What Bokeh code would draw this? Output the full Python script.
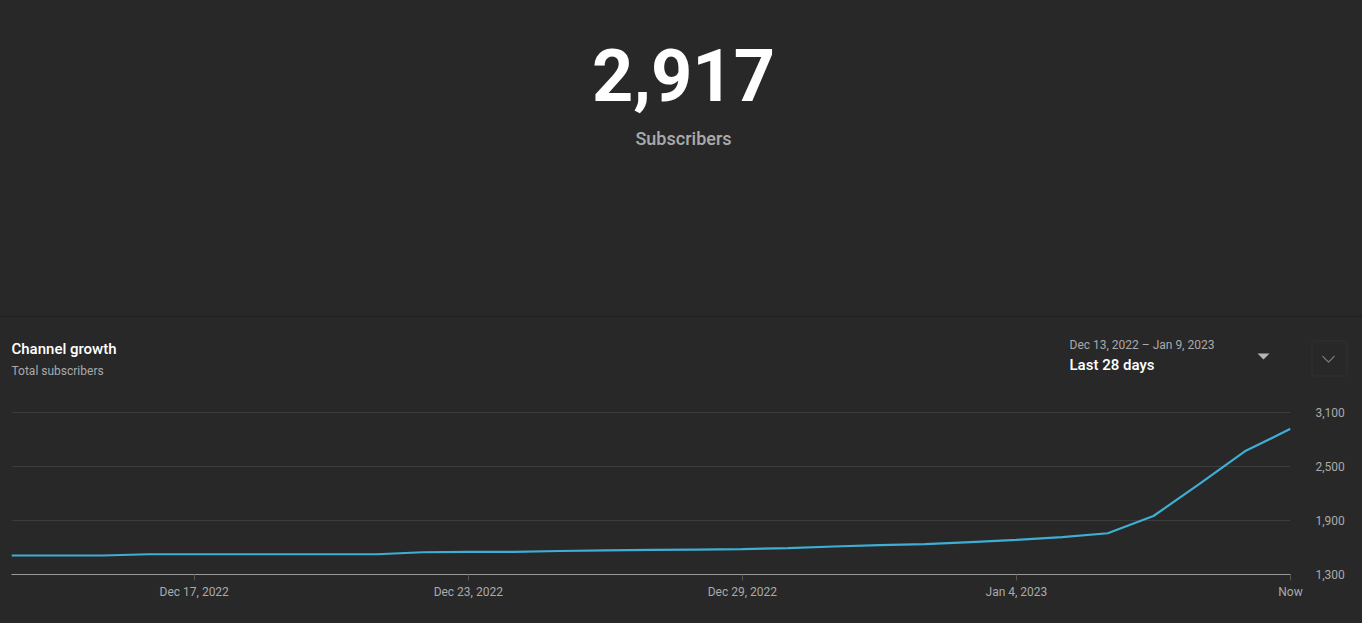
from bokeh.plotting import figure
from bokeh.embed import file_html
from bokeh.resources import INLINE
from bokeh.layouts import column
from bokeh.models import (Label, Range1d, FixedTicker, NumeralTickFormatter, LinearAxis, Span,
                          BoxAnnotation, PolyAnnotation, GlobalInlineStyleSheet, ColumnDataSource)

# ---------------- data ----------------
dates = ["Dec 13", "Dec 14", "Dec 15", "Dec 16", "Dec 17", "Dec 18", "Dec 19", "Dec 20",
         "Dec 21", "Dec 22", "Dec 23", "Dec 24", "Dec 25", "Dec 26", "Dec 27", "Dec 28",
         "Dec 29", "Dec 30", "Dec 31", "Jan 1", "Jan 2", "Jan 3", "Jan 4", "Jan 5",
         "Jan 6", "Jan 7", "Jan 8", "Jan 9", "Now"]
subscribers = [1511, 1511, 1511, 1525, 1525, 1525, 1525, 1525, 1525, 1547, 1550, 1552,
               1561, 1568, 1573, 1577, 1581, 1593, 1611, 1625, 1636, 1660, 1685, 1714,
               1758, 1949, 2304, 2667, 2917]
x_tick_days = [4, 10, 16, 22, 28]
x_tick_labels = ["Dec 17, 2022", "Dec 23, 2022", "Dec 29, 2022", "Jan 4, 2023", "Now"]
y_ticks = [1300, 1900, 2500, 3100]

total_text = "2,917"
total_caption = "Subscribers"
card_title = "Channel growth"
card_subtitle = "Total subscribers"
period_range = "Dec 13, 2022 \u2013 Jan 9, 2023"
period_name = "Last 28 days"

BG = "#282828"
LINE = "#3eaed4"
GREY = "#aaaaaa"
FONT = "Roboto"
FONT_MED = "'Roboto Medium', Roboto"

W = 1362
TOP_H = 400
BOT_H = 223

# ---------------- header figure (page-pixel coordinates) ----------------
top = figure(width=W, height=TOP_H, output_backend="svg", toolbar_location=None,
             x_range=Range1d(0, W), y_range=Range1d(TOP_H, 0),
             min_border=0, x_axis_location=None, y_axis_location=None)
try:
    top.frame_align = False
except Exception:
    pass
top.background_fill_color = BG
top.border_fill_color = BG
top.outline_line_color = None
top.grid.visible = False


def lab(text, x, y, size, color, style="normal", align="left", font=FONT):
    top.add_layout(Label(x=x, y=y, text=text, text_font=font, text_font_size=size,
                         text_color=color, text_font_style=style, text_align=align,
                         text_baseline="alphabetic"))


lab(total_text, 683, 74, "72px", "#ffffff", "bold", "center")
lab(total_caption, 683, 138, "18px", GREY, "normal", "center", FONT_MED)
lab(card_title, 11, 348, "15px", "#ffffff", "normal", font=FONT_MED)
lab(card_subtitle, 11, 370, "12px", GREY)
lab(period_range, 1069, 344, "12px", GREY)
lab(period_name, 1069, 364, "15px", "#ffffff", "normal", font=FONT_MED)

top.add_layout(Span(location=316, dimension="width", line_color="#1e1e1e", line_width=1))
top.add_layout(PolyAnnotation(xs=[1257, 1269, 1263], ys=[353, 353, 359],
                              fill_color="#b5b5b5", fill_alpha=1, line_color=None))
top.add_layout(BoxAnnotation(left=1311.5, right=1346.5, top=340.5, bottom=375.5,
                             fill_alpha=0, line_color="#474747", line_width=1,
                             border_radius=2))
top.add_layout(PolyAnnotation(xs=[1322, 1328, 1334, 1334, 1328, 1322],
                              ys=[355, 361, 355, 356.3, 362.3, 356.3],
                              fill_color="#9a9a9a", fill_alpha=1, line_color=None))

# ---------------- chart figure ----------------
p = figure(width=W, height=BOT_H, output_backend="svg", toolbar_location=None,
           x_range=Range1d(0, len(subscribers) - 1), y_range=Range1d(y_ticks[0], 3120),
           min_border_left=11, min_border_right=72, min_border_top=10, min_border_bottom=49,
           y_axis_location=None)
try:
    p.frame_align = False
except Exception:
    pass
p.background_fill_color = BG
p.border_fill_color = BG
p.outline_line_color = None

x_idx = list(range(len(subscribers)))
src = ColumnDataSource(dict(x=x_idx, y=subscribers, d=dates))
p.line("x", "y", source=src, line_color=LINE, line_width=2.2)

xa = p.xaxis[0]
xa.ticker = FixedTicker(ticks=x_tick_days)
xa.major_label_overrides = {d: l for d, l in zip(x_tick_days, x_tick_labels)}
xa.axis_line_color = "#9a9a9a"
xa.axis_line_width = 1
xa.major_tick_line_color = "#555555"
xa.major_tick_out = 6
xa.major_tick_in = 0
xa.minor_tick_line_color = None
xa.minor_tick_out = 0
xa.major_label_standoff = 4
xa.major_label_text_color = GREY
xa.major_label_text_font = FONT
xa.major_label_text_font_size = "12px"

ya = LinearAxis(ticker=FixedTicker(ticks=y_ticks), formatter=NumeralTickFormatter(format="0,0"))
ya.axis_line_color = None
ya.major_tick_line_color = None
ya.major_tick_out = 0
ya.major_tick_in = 0
ya.minor_tick_line_color = None
ya.minor_tick_out = 0
ya.major_label_standoff = 25
ya.major_label_text_color = GREY
ya.major_label_text_font = FONT
ya.major_label_text_font_size = "12px"
p.add_layout(ya, "right")

p.xgrid.grid_line_color = None
p.ygrid.ticker = FixedTicker(ticks=y_ticks)
p.ygrid.grid_line_color = "#3c3c3c"
p.ygrid.grid_line_width = 1

layout = column(top, p, spacing=0)
layout.stylesheets = [GlobalInlineStyleSheet(css="html, body { background: #282828; }")]

open("out.html", "w").write(file_html(layout, INLINE))
